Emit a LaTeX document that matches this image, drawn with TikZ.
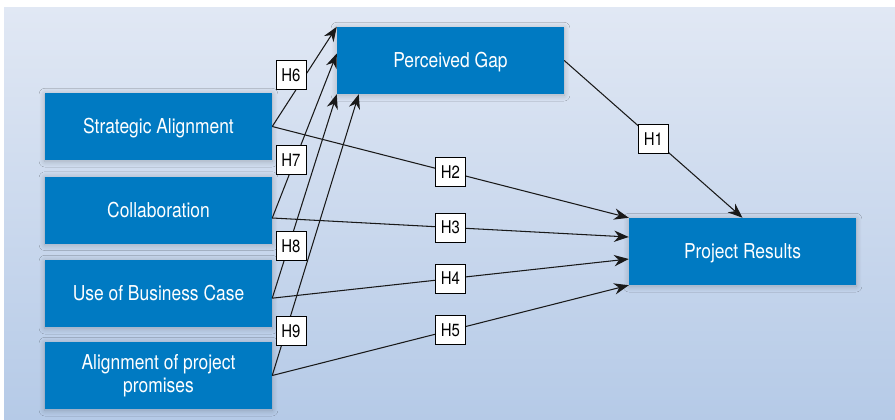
\documentclass[tikz,border=0pt]{standalone}
\usepackage{fontspec}
\setmainfont[FakeStretch=0.85]{TeX Gyre Heros}
\usepackage{xcolor}
\definecolor{BoxCol}{RGB}{0,122,194}
\definecolor{BgTop}{RGB}{225,232,244}
\definecolor{BgBot}{RGB}{181,202,231}
\usepackage{tikz}
\usetikzlibrary{arrows.meta}
\usetikzlibrary{shadows.blur}
\tikzstyle{Box}=[rectangle,fill=BoxCol,text=white,inner sep=2pt,
minimum width=6.81cm,minimum height=2.01cm,align=center,
font=\fontsize{17.5}{20}\selectfont,
blur shadow={shadow xshift=0pt,shadow yshift=-1pt,shadow blur steps=14,
shadow blur radius=5pt,shadow opacity=22}]
\tikzstyle{BoxOne}=[Box,text height=12.6pt,text depth=0pt]
\tikzstyle{Hyp}=[rectangle,draw=black,fill=white,line width=0.8pt,
minimum width=0.9cm,minimum height=0.87cm,inner sep=0pt,
font=\fontsize{15}{15}\selectfont]
\tikzstyle{Edge}=[draw=black!90,line width=0.9pt,
-{Stealth[length=4.4mm,width=3.4mm]}]

\begin{document}
\begin{tikzpicture}[x=0.03cm,y=-0.03cm]
    \fill[white](0,0)rectangle(895,420);
    \useasboundingbox(0,0)rectangle(895,420);
    \shade[top color=BgTop,bottom color=BgBot](4,7)rectangle(895,420);
    % constructs
    \node[BoxOne](sa)at(158.5,126.5){Strategic Alignment};
    \node[BoxOne](co)at(158.5,210.0){Collaboration};
    \node[BoxOne](bc)at(158.5,293.5){Use of Business Case};
    \node[Box](pp)at(158.5,375.5){Alignment of project\\promises};
    \node[BoxOne](pg)at(450.5,60.5){Perceived Gap};
    \node[BoxOne](pr)at(742.5,251.5){Project Results};
    % paths to the perceived gap
    \draw[Edge](sa.east)--(pg.north west);
    \draw[Edge]([yshift=-0.24cm]co.east)--([yshift=0.21cm]pg.west);
    \draw[Edge]([yshift=-0.14cm]bc.east)--(pg.south west);
    \draw[Edge](pp.east)--([xshift=0.66cm]pg.south west);
    % paths to the results
    \draw[Edge](sa.east)--(pr.north west)
        node[Hyp,pos=.5](h2){H2};
    \draw[Edge]([yshift=-0.24cm]co.east)--([yshift=0.435cm]pr.west)
        node[Hyp,pos=.5](h3){H3};
    \draw[Edge]([yshift=-0.14cm]bc.east)--([yshift=-0.225cm]pr.west)
        node[Hyp,pos=.5](h4){H4};
    \draw[Edge](pp.east)--(pr.south west)
        node[Hyp,pos=.5](h5){H5};
    \draw[Edge](pg.east)--(pr.north)
        node[Hyp,pos=.5](h1){H1};
    % labels of the gap paths
    \node[Hyp](h6)at(291,75){H6};
    \node[Hyp](h7)at(291,160){H7};
    \node[Hyp](h8)at(291,246){H8};
    \node[Hyp](h9)at(291,331){H9};
\end{tikzpicture}
\end{document}
